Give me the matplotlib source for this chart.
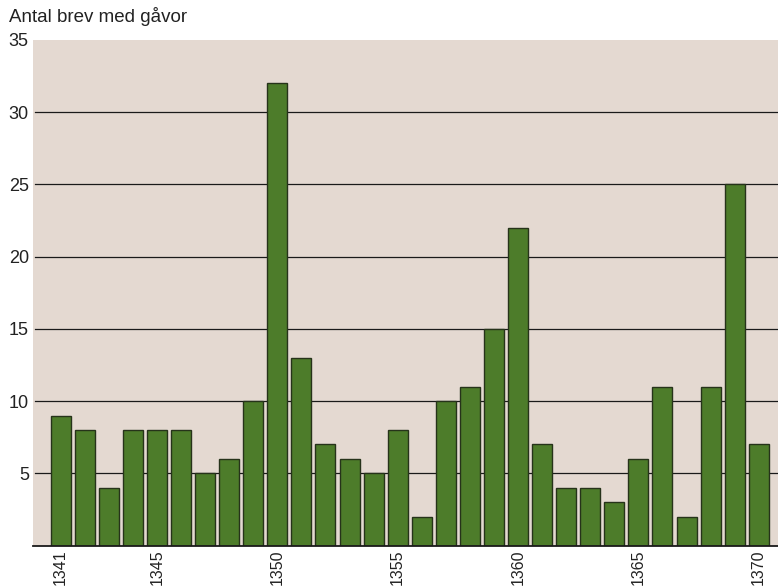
import matplotlib
matplotlib.use("Agg")
import matplotlib.pyplot as plt

plt.rcParams['font.family'] = ['Liberation Sans', 'DejaVu Sans']

years = list(range(1341, 1371))
counts = [9, 8, 4, 8, 8, 8, 5, 6, 10, 32,
          13, 7, 6, 5, 8, 2, 10, 11, 15, 22,
          7, 4, 4, 3, 6, 11, 2, 11, 25, 7]
tick_years = [1341, 1345, 1350, 1355, 1360, 1365, 1370]
y_ticks = [5, 10, 15, 20, 25, 30, 35]
title = "Antal brev med gåvor"

W, H = 778, 587
fig = plt.figure(figsize=(W / 100, H / 100), dpi=100)
fig.patch.set_facecolor("white")
ax = fig.add_axes([33 / W, 1 - 545.5 / H, (W - 33) / W, (545.5 - 40) / H])
ax.set_facecolor("#e4d9d1")

ax.bar(years, counts, width=0.83, color="#4d7c2a", edgecolor="#26331a",
       linewidth=1.0, zorder=3)

for v in y_ticks[:-1]:
    ax.axhline(v, color="#1a1a1a", linewidth=0.9, zorder=2, xmin=2 / (W - 33))

ax.set_xlim(1339.85, 1370.8)
ax.set_ylim(0, 35)
for s in ["top", "right", "left"]:
    ax.spines[s].set_visible(False)
ax.spines["bottom"].set_color("#1a1a1a")
ax.spines["bottom"].set_linewidth(1.3)
ax.spines["bottom"].set_zorder(4)

ax.set_yticks(y_ticks)
ax.set_yticklabels([str(v) for v in y_ticks], fontsize=13, color="#222222")
ax.tick_params(axis="y", length=0, pad=3)
ax.set_xticks(tick_years)
ax.set_xticklabels([str(y) for y in tick_years], rotation=90, fontsize=11.5,
                   color="#222222", va="top")
ax.tick_params(axis="x", length=0, pad=3)

fig.text(9 / W, 1 - 17 / H, title, fontsize=13.5, color="#222222",
         ha="left", va="center")

fig.savefig("out.png", dpi=100)
